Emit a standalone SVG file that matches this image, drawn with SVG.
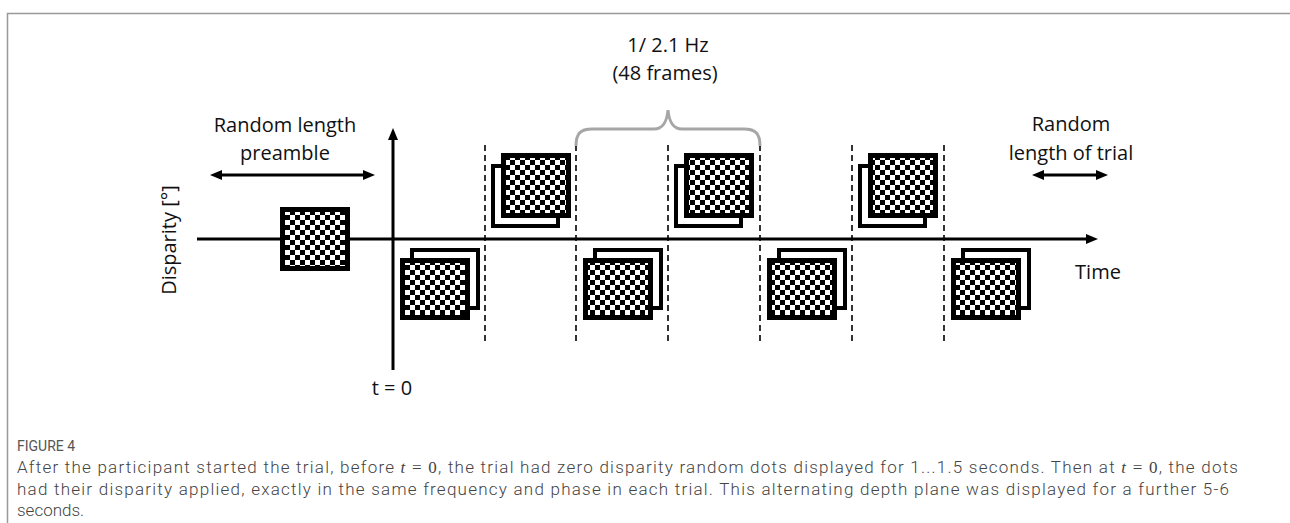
<svg xmlns="http://www.w3.org/2000/svg" width="1290" height="523" viewBox="0 0 1290 523">
<style>
.lbl{font-family:"Open Sans","Liberation Sans",sans-serif;font-size:20px;fill:#111;text-anchor:middle}
.ax{stroke:#000;stroke-width:3;fill:none}
.dash{stroke:#000;stroke-width:1.6;stroke-dasharray:6,4;fill:none}
.chk{fill:url(#cb);stroke:#000;stroke-width:5}
.out{fill:none;stroke:#000;stroke-width:4}
.cap{font-family:Roboto,"Liberation Sans",sans-serif;font-size:17px;font-weight:300;fill:#444}
.fig{font-family:Roboto,"Liberation Sans",sans-serif;font-size:14px;fill:#555}
.m{font-family:"Liberation Serif",serif;font-size:17px;font-weight:400}
</style>
<defs>
<pattern id="cb" width="10" height="10" patternUnits="userSpaceOnUse">
<rect width="10" height="10" fill="#fff"/>
<rect width="5" height="5" fill="#000"/>
<rect x="5" y="5" width="5" height="5" fill="#000"/>
</pattern>
<marker id="ah" viewBox="0 0 12 10" refX="3" refY="5" markerWidth="12" markerHeight="10" markerUnits="userSpaceOnUse" orient="auto-start-reverse">
<path d="M0,0 L12,5 L0,10 z" fill="#000"/>
</marker>
</defs>
<rect width="1290" height="523" fill="#fff"/>
<g id="frame">
<path d="M7.5,523 V13.5 H1290" fill="none" stroke="#999" stroke-width="1.5"/>
</g>
<g id="connectors">
<line class="ax" x1="197" y1="239" x2="1089" y2="239" marker-end="url(#ah)"/>
<line class="ax" x1="393" y1="370" x2="393" y2="137" marker-end="url(#ah)"/>
<line class="ax" x1="219" y1="175" x2="366" y2="175" marker-start="url(#ah)" marker-end="url(#ah)"/>
<line class="ax" x1="1041" y1="175" x2="1099" y2="175" marker-start="url(#ah)" marker-end="url(#ah)"/>
<g id="dashes">
<line class="dash" x1="485" y1="145" x2="485" y2="345"/>
<line class="dash" x1="576" y1="145" x2="576" y2="345"/>
<line class="dash" x1="668" y1="145" x2="668" y2="345"/>
<line class="dash" x1="760" y1="145" x2="760" y2="345"/>
<line class="dash" x1="852" y1="145" x2="852" y2="345"/>
<line class="dash" x1="944" y1="145" x2="944" y2="345"/>
</g>
<path id="brace" d="M576,146 C576,134 580,129 592,129 H654 C662,129 667,122 668,110 C669,122 674,129 682,129 H744 C756,129 760,134 760,146" fill="none" stroke="#a6a6a6" stroke-width="3"/>
</g>
<g id="zero-box"><rect class="chk" x="282.5" y="209.5" width="65" height="59"/></g>
<g id="box-1"><rect class="out" x="412" y="250" width="66" height="58"/><rect class="chk" x="402.5" y="260.5" width="65" height="57"/></g>
<g id="box-2"><rect class="out" x="493" y="166" width="65" height="60"/><rect class="chk" x="503.5" y="155.5" width="65" height="60"/></g>
<g id="box-3"><rect class="out" x="595" y="250" width="66" height="58"/><rect class="chk" x="585.5" y="260.5" width="65" height="57"/></g>
<g id="box-4"><rect class="out" x="676" y="166" width="65" height="60"/><rect class="chk" x="686.5" y="155.5" width="65" height="60"/></g>
<g id="box-5"><rect class="out" x="779" y="250" width="66" height="58"/><rect class="chk" x="769.5" y="260.5" width="65" height="57"/></g>
<g id="box-6"><rect class="out" x="860" y="166" width="65" height="60"/><rect class="chk" x="870.5" y="155.5" width="65" height="60"/></g>
<g id="box-7"><rect class="out" x="963" y="250" width="66" height="58"/><rect class="chk" x="953.5" y="260.5" width="65" height="57"/></g>
<g id="labels">
<text class="lbl" x="285" y="132">Random length</text>
<text class="lbl" x="285" y="160">preamble</text>
<text class="lbl" x="668" y="52">1/ 2.1 Hz</text>
<text class="lbl" x="665" y="80">(48 frames)</text>
<text class="lbl" x="1071" y="131">Random</text>
<text class="lbl" x="1071" y="160">length of trial</text>
<text class="lbl" x="1098" y="279">Time</text>
<text class="lbl" x="392" y="395">t = 0</text>
<text class="lbl" transform="translate(176,240) rotate(-90)">Disparity [°]</text>
</g>
<g id="caption">
<text class="fig" x="17" y="451">FIGURE 4</text>
<text class="cap" x="17" y="473" textLength="1221" lengthAdjust="spacing">After the participant started the trial, before <tspan class="m" font-style="italic">t</tspan><tspan class="m"> = 0</tspan>, the trial had zero disparity random dots displayed for 1...1.5 seconds. Then at <tspan class="m" font-style="italic">t</tspan><tspan class="m"> = 0</tspan>, the dots</text>
<text class="cap" x="17" y="495" textLength="1212" lengthAdjust="spacing">had their disparity applied, exactly in the same frequency and phase in each trial. This alternating depth plane was displayed for a further 5-6</text>
<text class="cap" x="17" y="516">seconds.</text>
</g>
</svg>
